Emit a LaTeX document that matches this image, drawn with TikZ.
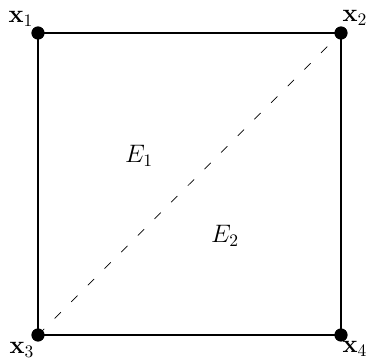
\documentclass[tikz,border=0pt]{standalone}
\begin{document}
\begin{tikzpicture}[x=0.57pt,y=-0.57pt,
  edge/.style={line width=0.9pt},
  diag/.style={line width=0.4pt,dash pattern=on 5pt off 8.4pt},
  vtx/.style={circle,fill=black,inner sep=0pt,minimum size=7.4pt},
  lbl/.style={inner sep=0pt,font=\fontsize{14}{16}\selectfont}]
\useasboundingbox (0,0) rectangle (367,362);
\node[vtx] (x1) at (38,33) {};
\node[vtx] (x2) at (341,33) {};
\node[vtx] (x3) at (38,335) {};
\node[vtx] (x4) at (341,335) {};
\draw[edge] (x1.center) -- (x2.center) -- (x4.center) -- (x3.center) -- cycle;
\draw[diag] (x3.center) -- (x2.center);
\node[vtx] at (x1) {};
\node[vtx] at (x2) {};
\node[vtx] at (x3) {};
\node[vtx] at (x4) {};
\node[lbl] (l1) at (21,19) {$\mathbf{x}_1$};
\node[lbl] (l2) at (355,18) {$\mathbf{x}_2$};
\node[lbl] (l3) at (22,350) {$\mathbf{x}_3$};
\node[lbl] (l4) at (355,349) {$\mathbf{x}_4$};
\node[lbl] (e1) at (139,156) {$E_1$};
\node[lbl] (e2) at (225,236) {$E_2$};
\end{tikzpicture}
\end{document}
